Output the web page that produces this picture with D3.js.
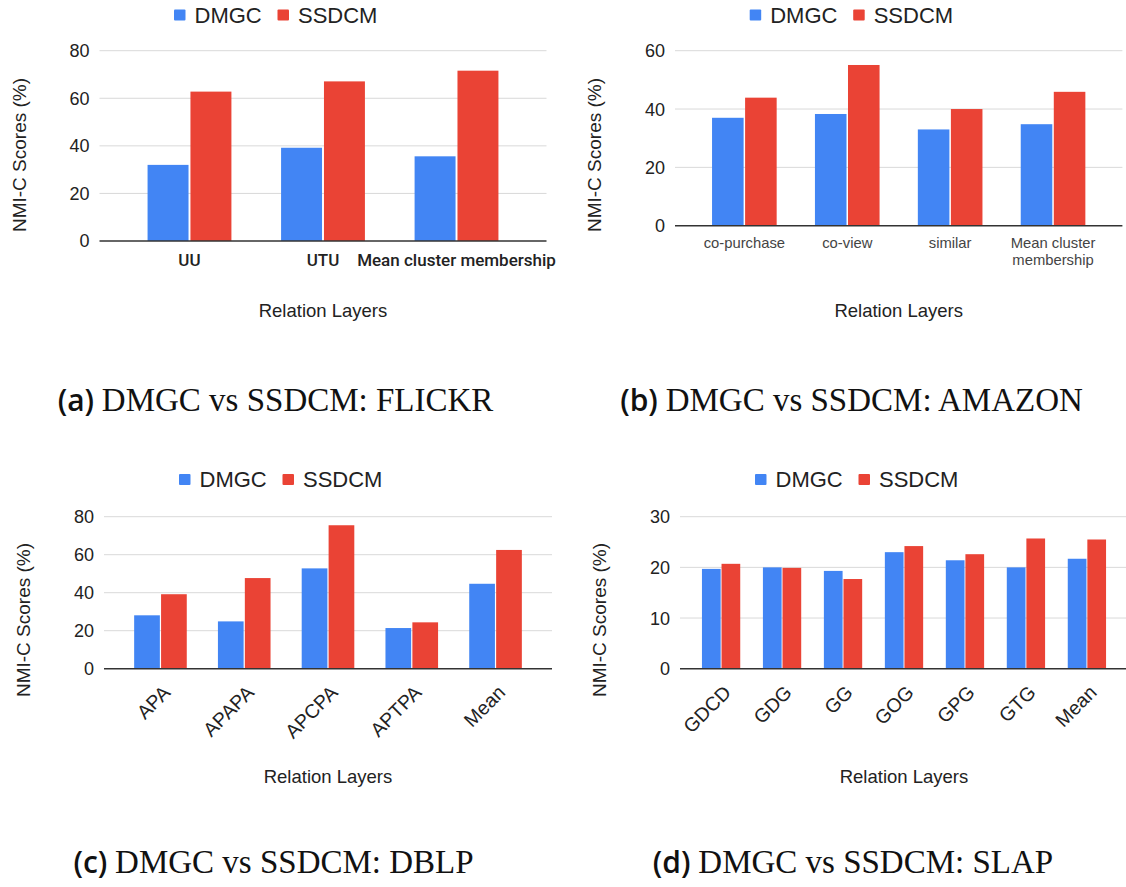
<!DOCTYPE html>
<html>
<head>
<meta charset="utf-8">
<script src="https://cdn.jsdelivr.net/npm/d3@7"></script>
<style>
  html, body { margin: 0; padding: 0; background: #fff; }
  svg { display: block; }
</style>
</head>
<body>
<svg id="chart" width="1126" height="887"></svg>
<script>
// ---------------- DATA ----------------
const seriesNames = ["DMGC", "SSDCM"];
const seriesColors = ["#4285F4", "#EA4335"];

const flickrCategories = ["UU", "UTU", "Mean cluster membership"];
const flickrDMGC  = [32, 39.2, 35.6];
const flickrSSDCM = [62.8, 67.1, 71.6];
const flickrTicks = [0, 20, 40, 60, 80];

const amazonCategories = ["co-purchase", "co-view", "similar", "Mean cluster\nmembership"];
const amazonDMGC  = [37.0, 38.3, 33.0, 34.8];
const amazonSSDCM = [43.9, 55.1, 40.0, 45.9];
const amazonTicks = [0, 20, 40, 60];

const dblpCategories = ["APA", "APAPA", "APCPA", "APTPA", "Mean"];
const dblpDMGC  = [28.1, 24.9, 52.8, 21.4, 44.7];
const dblpSSDCM = [39.2, 47.7, 75.5, 24.4, 62.5];
const dblpTicks = [0, 20, 40, 60, 80];

const slapCategories = ["GDCD", "GDG", "GG", "GOG", "GPG", "GTG", "Mean"];
const slapDMGC  = [19.7, 20.0, 19.3, 23.0, 21.4, 20.0, 21.7];
const slapSSDCM = [20.7, 19.9, 17.7, 24.2, 22.6, 25.7, 25.5];
const slapTicks = [0, 10, 20, 30];

const captions = [
  ["(a)", "DMGC vs SSDCM: FLICKR"],
  ["(b)", "DMGC vs SSDCM: AMAZON"],
  ["(c)", "DMGC vs SSDCM: DBLP"],
  ["(d)", "DMGC vs SSDCM: SLAP"]
];
const yTitle = "NMI-C Scores (%)";
const xTitle = "Relation Layers";

// ---------------- DRAW ----------------
const svg = d3.select("#chart");
const SANS = "'Liberation Sans', Arial, sans-serif";

function panel(cfg) {
  const g = svg.append("g");
  const x = d3.scaleBand().domain(cfg.categories)
    .range([cfg.left, cfg.right]).paddingInner(0.372).paddingOuter(0.36);
  const xs = d3.scaleBand().domain(seriesNames).range([0, x.bandwidth()]).paddingInner(0.045);
  const y = d3.scaleLinear().domain([0, d3.max(cfg.ticks)]).range([cfg.bottom, cfg.top]);

  // gridlines
  g.selectAll("line.grid").data(cfg.ticks.filter(t => t > 0)).join("line")
    .attr("x1", cfg.left).attr("x2", cfg.right)
    .attr("y1", d => y(d)).attr("y2", d => y(d))
    .attr("stroke", "#d9d9d9").attr("stroke-width", 1);

  // y tick labels
  g.selectAll("text.ytick").data(cfg.ticks).join("text")
    .attr("x", cfg.left - 10).attr("y", d => y(d))
    .attr("dy", "0.36em").attr("text-anchor", "end")
    .attr("font-family", SANS).attr("font-size", 18).attr("fill", "#222")
    .text(d => d);

  // bars
  const rows = cfg.categories.map((c, i) => ({ cat: c, vals: [cfg.a[i], cfg.b[i]] }));
  const grp = g.selectAll("g.cat").data(rows).join("g")
    .attr("transform", d => `translate(${x(d.cat)},0)`);
  grp.selectAll("rect").data(d => d.vals.map((v, j) => ({ s: seriesNames[j], v, j }))).join("rect")
    .attr("x", d => xs(d.s)).attr("width", xs.bandwidth())
    .attr("y", d => y(d.v)).attr("height", d => y(0) - y(d.v))
    .attr("fill", d => seriesColors[d.j]);

  // baseline
  g.append("line").attr("x1", cfg.left).attr("x2", cfg.right)
    .attr("y1", y(0)).attr("y2", y(0))
    .attr("stroke", "#333").attr("stroke-width", 1.5);

  // x labels
  const cx = c => x(c) + x.bandwidth() / 2;
  if (cfg.labelMode === "bold") {
    g.selectAll("text.xl").data(cfg.categories).join("text")
      .attr("x", cx).attr("y", y(0) + 25)
      .attr("text-anchor", "middle")
      .attr("font-family", "Roboto, sans-serif").attr("font-weight", 500)
      .attr("font-size", 17).attr("fill", "#222").text(d => d);
  } else if (cfg.labelMode === "small") {
    const t = g.selectAll("text.xl").data(cfg.categories).join("text")
      .attr("text-anchor", "middle")
      .attr("font-family", SANS).attr("font-size", 14.8).attr("fill", "#444");
    t.each(function (d) {
      const lines = d.split("\n");
      d3.select(this).selectAll("tspan").data(lines).join("tspan")
        .attr("x", cx(d)).attr("y", (l, k) => y(0) + 22 + k * 17.7)
        .text(l => l);
    });
  } else {
    g.selectAll("text.xl").data(cfg.categories).join("text")
      .attr("transform", d => `translate(${cx(d) + 11},${y(0) + 25}) rotate(-45)`)
      .attr("text-anchor", "end")
      .attr("font-family", SANS).attr("font-size", 19.5).attr("fill", "#222").text(d => d);
  }

  // axis titles
  const midX = (cfg.left + cfg.right) / 2;
  g.append("text")
    .attr("transform", `translate(${cfg.left - 80.5},${cfg.yTitleY}) rotate(-90)`)
    .attr("text-anchor", "middle").attr("dy", "0.36em")
    .attr("font-family", SANS).attr("font-size", 19).attr("fill", "#222")
    .text(yTitle);
  g.append("text")
    .attr("x", midX).attr("y", cfg.xTitleY).attr("dy", "0.36em")
    .attr("text-anchor", "middle")
    .attr("font-family", SANS).attr("font-size", 18.5).attr("fill", "#222")
    .text(xTitle);

  // legend
  const lx = midX - 149;
  const leg = g.selectAll("g.leg").data(seriesNames).join("g")
    .attr("transform", (d, i) => `translate(${lx + i * 103.5},${cfg.legendY})`);
  leg.append("rect").attr("x", 0).attr("y", -5.5).attr("width", 11.5).attr("height", 11)
    .attr("rx", 1).attr("fill", (d, i) => seriesColors[i]);
  leg.append("text").attr("x", 20.5).attr("y", 0).attr("dy", "0.36em")
    .attr("font-family", SANS).attr("font-size", 22).attr("fill", "#222").text(d => d);

  // caption
  const cap = g.append("text").attr("x", cfg.capX).attr("y", cfg.capY)
    .attr("text-anchor", "middle").attr("fill", "#111");
  cap.append("tspan").attr("font-family", "'Open Sans', 'DejaVu Sans', sans-serif")
    .attr("font-weight", 600).attr("font-size", 30).text(cfg.caption[0] + " ");
  cap.append("tspan").attr("font-family", "'Liberation Serif', 'Times New Roman', serif")
    .attr("font-size", 33).text(cfg.caption[1]);
}

panel({ categories: flickrCategories, a: flickrDMGC, b: flickrSSDCM, ticks: flickrTicks,
  left: 99.5, right: 546.5, top: 50.7, bottom: 241, labelMode: "bold",
  yTitleY: 155, xTitleY: 310, legendY: 15, caption: captions[0], capX: 275.5, capY: 411 });
panel({ categories: amazonCategories, a: amazonDMGC, b: amazonSSDCM, ticks: amazonTicks,
  left: 675, right: 1122.4, top: 50.7, bottom: 225.7, labelMode: "small",
  yTitleY: 155, xTitleY: 310, legendY: 15, caption: captions[1], capX: 851.5, capY: 411 });
panel({ categories: dblpCategories, a: dblpDMGC, b: dblpSSDCM, ticks: dblpTicks,
  left: 104, right: 552, top: 516.7, bottom: 668.7, labelMode: "rot",
  yTitleY: 620, xTitleY: 776, legendY: 479.5, caption: captions[2], capX: 273.5, capY: 873 });
panel({ categories: slapCategories, a: slapDMGC, b: slapSSDCM, ticks: slapTicks,
  left: 680, right: 1128, top: 516.7, bottom: 668.7, labelMode: "rot",
  yTitleY: 620, xTitleY: 776, legendY: 479.5, caption: captions[3], capX: 853, capY: 873 });
</script>
</body>
</html>
